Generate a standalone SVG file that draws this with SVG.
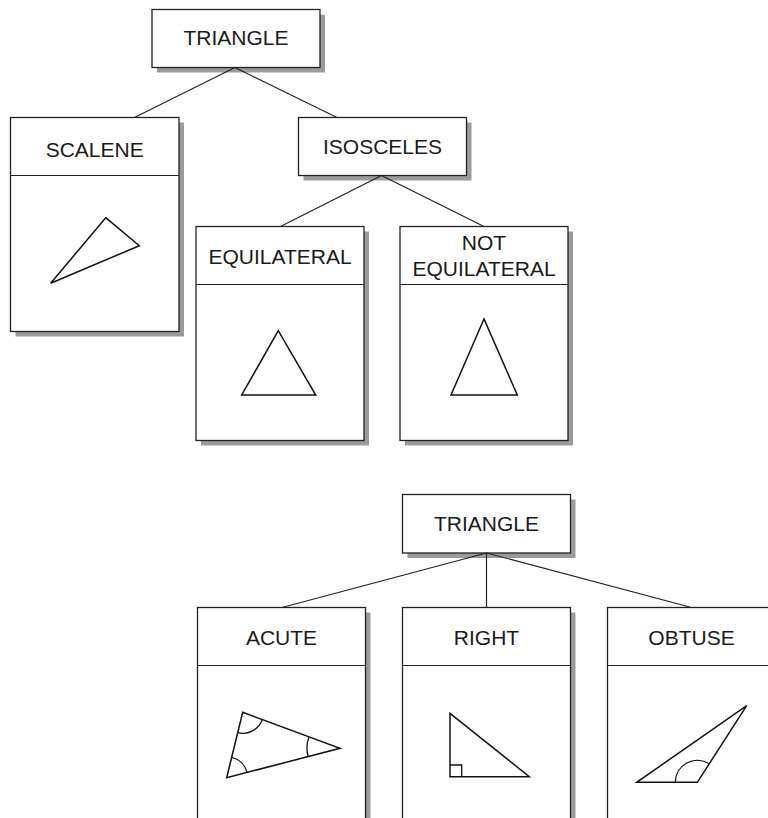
<svg xmlns="http://www.w3.org/2000/svg" width="768" height="818" viewBox="0 0 768 818">
<defs>
<style>
.shadow{fill:#9b9b9b;stroke:none}
.box{fill:#fff;stroke:#222;stroke-width:1.3}
.div{stroke:#222;stroke-width:1.2;fill:none}
.lbl{font-family:"Liberation Sans",Arial,sans-serif;font-size:21px;fill:#1a1a1a;text-anchor:middle}
.shape{fill:none;stroke:#111;stroke-width:1.5;stroke-linejoin:miter}
.arc{fill:none;stroke:#111;stroke-width:1.3}
.conn{stroke:#222;stroke-width:1.2;fill:none}
</style>
</defs>
<rect width="768" height="818" fill="#fff"/>

<g id="triangle-top">
<rect class="shadow" x="157" y="14.5" width="168" height="58"/>
<rect class="box" x="152" y="9.5" width="168" height="58"/>
<text class="lbl" x="236" y="44.5">TRIANGLE</text>
</g>

<g id="scalene">
<rect class="shadow" x="15.5" y="122.5" width="168.5" height="214"/>
<rect class="box" x="10.5" y="117.5" width="168.5" height="214"/>
<line class="div" x1="10.5" y1="175.5" x2="179" y2="175.5"/>
<text class="lbl" x="94.7" y="156.7">SCALENE</text>
<polygon class="shape" points="105.7,217.7 139.3,245.7 50.7,283.3"/>
</g>

<g id="isosceles">
<rect class="shadow" x="303.5" y="122.5" width="168" height="58"/>
<rect class="box" x="298.5" y="117.5" width="168" height="58"/>
<text class="lbl" x="382.5" y="153.5">ISOSCELES</text>
</g>

<g id="equilateral">
<rect class="shadow" x="201" y="231.5" width="168" height="214"/>
<rect class="box" x="196" y="226.5" width="168" height="214"/>
<line class="div" x1="196" y1="284.5" x2="364" y2="284.5"/>
<text class="lbl" x="280" y="263.5">EQUILATERAL</text>
<polygon class="shape" points="278.3,330.7 241.7,395 315.7,395"/>
</g>

<g id="not-equilateral">
<rect class="shadow" x="405" y="231.5" width="168" height="214"/>
<rect class="box" x="400" y="226.5" width="168" height="214"/>
<line class="div" x1="400" y1="284.5" x2="568" y2="284.5"/>
<text class="lbl" x="484" y="249.5">NOT</text>
<text class="lbl" x="484" y="276">EQUILATERAL</text>
<polygon class="shape" points="484,319 451,395 517.3,395"/>
</g>

<g id="triangle-bottom">
<rect class="shadow" x="407.5" y="499.5" width="168" height="58.5"/>
<rect class="box" x="402.5" y="494.5" width="168" height="58.5"/>
<text class="lbl" x="486.5" y="531">TRIANGLE</text>
</g>

<g id="acute">
<rect class="shadow" x="202.5" y="612.5" width="168" height="240"/>
<rect class="box" x="197.5" y="607.5" width="168" height="240"/>
<line class="div" x1="197.5" y1="665.5" x2="365.5" y2="665.5"/>
<text class="lbl" x="281.5" y="645">ACUTE</text>
<polygon class="shape" points="242.7,712.3 340,748.3 226.7,777.7"/>
<path class="arc" d="M237.7,732.7 A21,21 0 0,0 262.4,719.6"/>
<path class="arc" d="M309,736.9 A33,33 0 0,0 308.1,756.6"/>
<path class="arc" d="M231.7,757.3 A21,21 0 0,1 247,772.4"/>
</g>

<g id="right">
<rect class="shadow" x="407.5" y="612.5" width="168" height="240"/>
<rect class="box" x="402.5" y="607.5" width="168" height="240"/>
<line class="div" x1="402.5" y1="665.5" x2="570.5" y2="665.5"/>
<text class="lbl" x="486.5" y="645">RIGHT</text>
<polygon class="shape" points="450,713.3 450,776.7 529.3,776.7"/>
<polyline class="arc" points="450,765 461.7,765 461.7,776.7"/>
</g>

<g id="obtuse">
<rect class="shadow" x="612.5" y="612.5" width="168" height="240"/>
<rect class="box" x="607.5" y="607.5" width="168" height="240"/>
<line class="div" x1="607.5" y1="665.5" x2="775.5" y2="665.5"/>
<text class="lbl" x="691.5" y="645">OBTUSE</text>
<polygon class="shape" points="746.7,705.7 636.7,782.3 697.3,782.3"/>
<path class="arc" d="M675.3,782.3 A22,22 0 0,1 709.2,763.8"/>
</g>

<g id="connectors">
<line class="conn" x1="235" y1="67.5" x2="134.5" y2="117.5"/>
<line class="conn" x1="235" y1="67.5" x2="337" y2="117.5"/>
<line class="conn" x1="381.5" y1="175.5" x2="280.5" y2="226.5"/>
<line class="conn" x1="381.5" y1="175.5" x2="484" y2="226.5"/>
<line class="conn" x1="486.5" y1="553" x2="282" y2="607.5"/>
<line class="conn" x1="486.5" y1="553" x2="486.5" y2="607.5"/>
<line class="conn" x1="486.5" y1="553" x2="691.5" y2="607.5"/>
</g>
</svg>
